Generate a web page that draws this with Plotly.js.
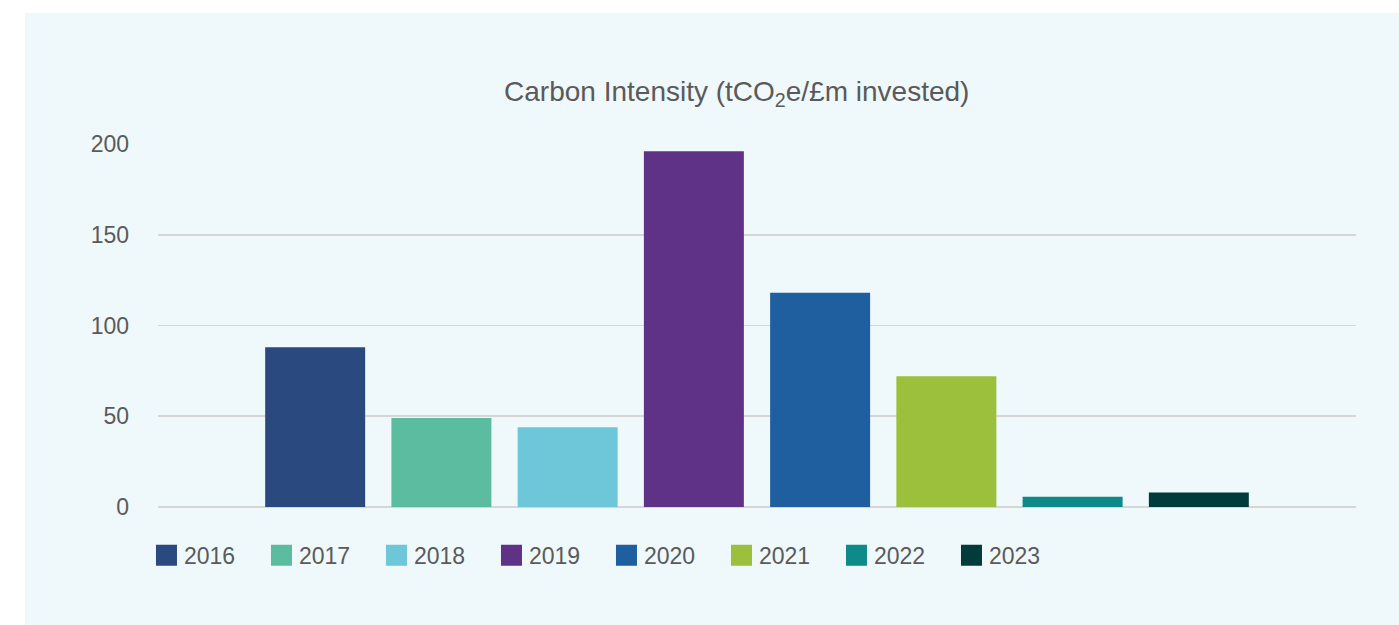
<!DOCTYPE html>
<html>
<head>
<meta charset="utf-8">
<script src="https://cdn.plot.ly/plotly-3.0.1.min.js"></script>
<style>
  html, body { margin: 0; padding: 0; background: #ffffff; width: 1399px; height: 625px; overflow: hidden; }
  #chart { position: absolute; left: 25px; top: 13px; width: 1374px; height: 612px; }
  #chart .legendpoints path { d: path('M13,10.5H-8V-10.5H13Z'); }
</style>
</head>
<body>
<div id="chart"></div>
<script>
const category = ['Carbon Intensity'];
const years = ['2016', '2017', '2018', '2019', '2020', '2021', '2022', '2023'];
const values = [88, 49, 44, 196, 118, 72, 5.7, 8];
const colors = ['#2A4A7F', '#5BBC9F', '#6EC6D9', '#5F3287', '#1F5E9F', '#9CC03C', '#0E8B88', '#023B3C'];
const yTicks = [0, 50, 100, 150, 200];

const FONT = '"Liberation Sans Narrow", "Liberation Sans", Arial, sans-serif';
const TXT = '#5A5A5A';

const traces = years.map((yr, i) => ({
  type: 'bar',
  name: yr,
  x: category,
  y: [values[i]],
  marker: { color: colors[i], line: { width: 0 } },
  hoverinfo: 'name+y'
}));

const layout = {
  width: 1374,
  height: 612,
  paper_bgcolor: '#EFF8FB',
  plot_bgcolor: '#EFF8FB',
  margin: { l: 133, r: 43, t: 131, b: 117.7, pad: 0 },
  barmode: 'group',
  bargap: 0.157,
  bargroupgap: 0.208,
  title: {
    text: 'Carbon Intensity (tCO<sub>2</sub>e/£m invested)',
    font: { family: FONT, size: 28, color: TXT },
    x: 0.518, xref: 'container', xanchor: 'center',
    y: 0.8725, yref: 'container', yanchor: 'middle'
  },
  xaxis: {
    showticklabels: false,
    showgrid: false,
    zeroline: false,
    showline: false,
    ticks: ''
  },
  yaxis: {
    range: [0, 200],
    tickvals: yTicks,
    ticktext: yTicks.map(String),
    showgrid: true,
    gridcolor: '#D6D6D6',
    gridwidth: 1.8,
    zeroline: true,
    zerolinecolor: '#D6D6D6',
    zerolinewidth: 1.8,
    showline: false,
    ticks: '',
    ticklabelstandoff: 28,
    tickfont: { family: FONT, size: 23, color: TXT }
  },
  showlegend: true,
  legend: {
    orientation: 'h',
    x: -0.0117, xanchor: 'left',
    y: -0.074, yanchor: 'top',
    font: { family: FONT, size: 23, color: TXT },
    bgcolor: 'rgba(0,0,0,0)',
    entrywidth: 70,
    entrywidthmode: 'pixels',
    traceorder: 'normal'
  }
};

Plotly.newPlot('chart', traces, layout, { displayModeBar: false, staticPlot: true });
</script>
</body>
</html>
